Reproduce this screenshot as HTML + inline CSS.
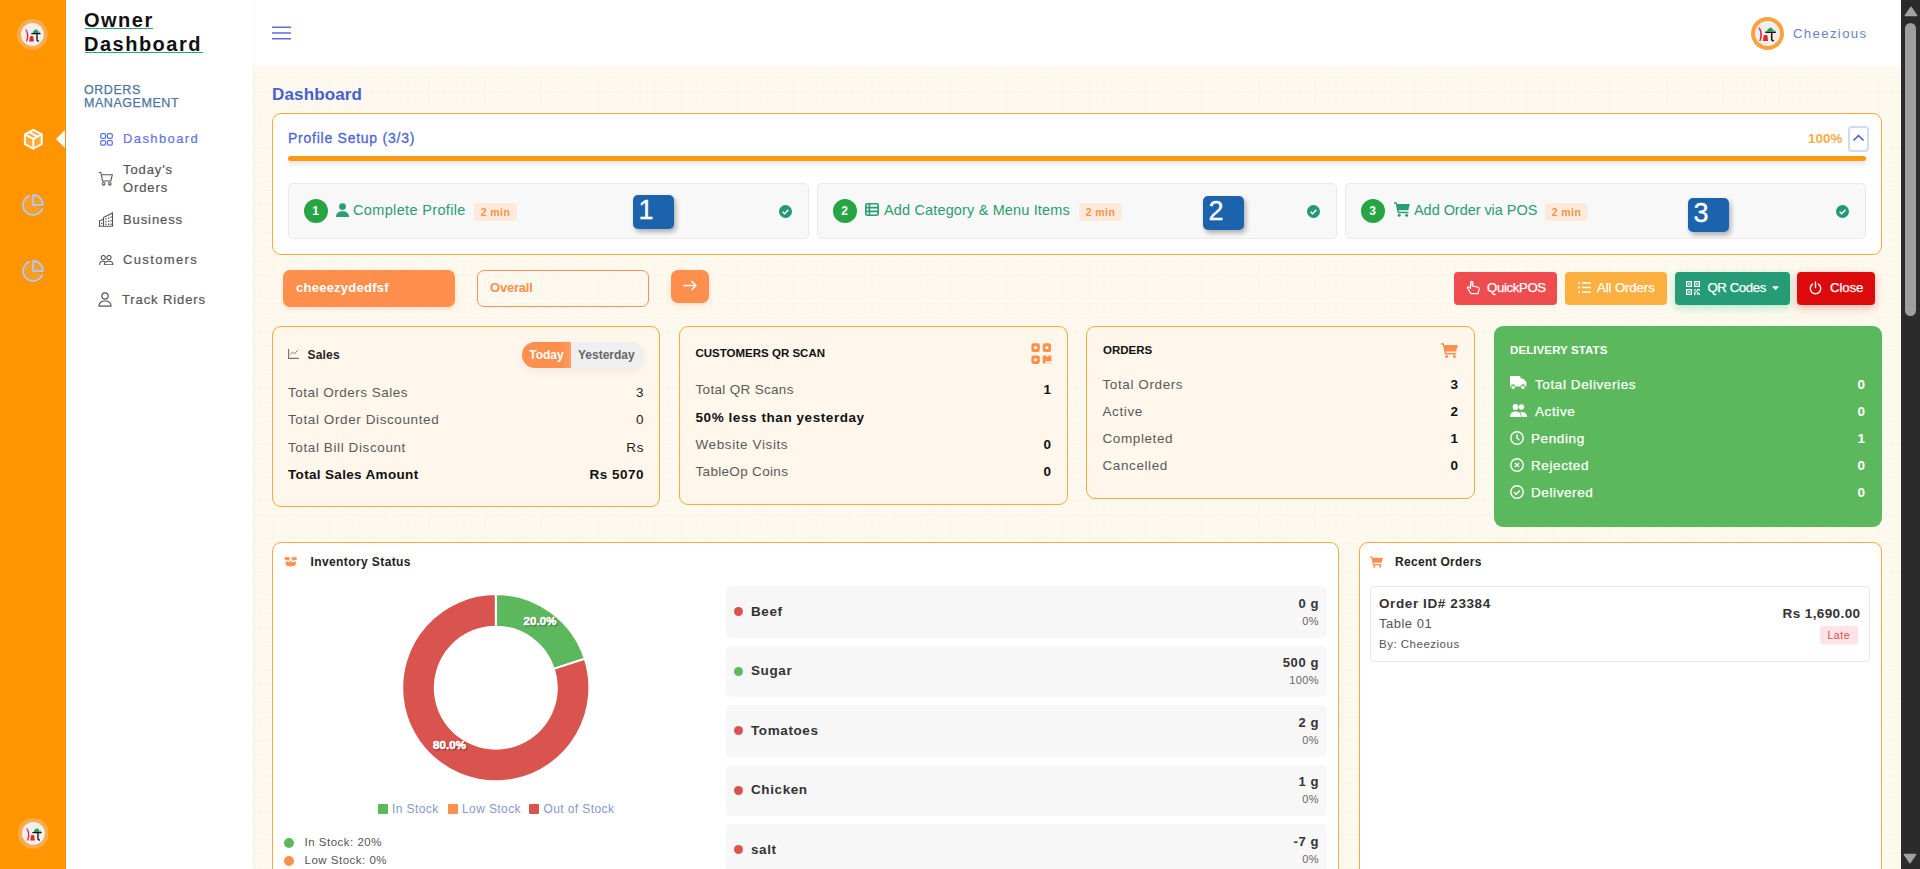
<!DOCTYPE html>
<html lang="en">
<head>
<meta charset="utf-8">
<title>Owner Dashboard</title>
<style>
*{box-sizing:border-box;margin:0;padding:0}
html,body{width:1920px;height:869px;overflow:hidden}
body{position:relative;font-family:"Liberation Sans",Arial,sans-serif;background:#fcf8ef;color:#333}
.a{position:absolute}
.t{position:absolute;white-space:nowrap;line-height:1}
/* rail */
#rail{left:0;top:0;width:66px;height:869px;background:#ff9500}
.logo{position:absolute;width:31px;height:31px;border-radius:50%;background:#f9ab4d}
.logo svg{position:absolute;left:0;top:0}
/* sidebar */
#side{left:66px;top:0;width:187px;height:869px;background:#fff}
#main{left:253px;top:66px;width:1648px;height:803px;background-color:#fdf9ee;
 background-image:linear-gradient(to right,rgba(200,190,170,.06) 1px,transparent 1px),linear-gradient(to bottom,rgba(200,190,170,.06) 1px,transparent 1px);
 background-size:14.07px 14.12px;background-position:6.8px 11.2px}
#head{left:253px;top:0;width:1648px;height:66px;background:#fff}
#sbar{left:1901px;top:0;width:19px;height:869px;background:#2b2b2b}
.nav{color:#555;font-size:13px;letter-spacing:.9px;-webkit-text-stroke:.2px currentColor}
.tsk{font-size:14.5px;color:#2b9c72;letter-spacing:.35px}
.bdg{height:18px;width:43px;border-radius:4px;background:#fdeadd;color:#f7934a;font-size:10.5px;font-weight:bold;line-height:18px;text-align:center;letter-spacing:.4px}
.btn{top:272px;height:33px;border-radius:4px}
.btt{top:281.3px;font-size:13.2px;color:#fff;-webkit-text-stroke:.25px #fff}
.card{background:#fff6ec;border:1px solid #fca83a;border-radius:9px}
.dl{font-size:11.5px;font-weight:bold;color:#fff;letter-spacing:.1px;-webkit-text-stroke:.6px #fff;text-shadow:1px 1px 1.5px rgba(0,0,0,.6)}
.lg{top:803px;font-size:12px;color:#8697c9;letter-spacing:.4px}
</style>
</head>
<body>
<div id="main" class="a"></div>
<div id="head" class="a"></div>
<div id="side" class="a" style="box-shadow:1px 0 3px rgba(0,0,0,.04)"></div>
<div id="rail" class="a"></div>

<!-- rail logos -->
<svg class="a" style="left:17.40px;top:19.40px" width="30.80" height="30.80" viewBox="-15.40 -15.40 30.80 30.80"><circle r="15.40" fill="#f9ab4d"/><circle r="11.4" fill="#efefef"/><g transform="translate(.9 .3) scale(.88)"><path d="M-8.4 -6.2C-5.6 -4.2 -4.4 3 -7 7.6L-8.4 7.6C-6.6 3 -6.8 -2.5 -9.2 -5.6Z" fill="#e5262d"/>
<path d="M-4.8 7.6L-3.8 2.6Q-3.6 1.6 -2.8 1.6L-1 1.6Q-.2 1.6 0 2.6L.6 7.6Z" fill="#e5262d"/>
<path d="M-2.2 -1.2H8.3M4.2 -1.2V5.6C4.2 6.9 5 7.3 6.4 7.1" stroke="#111" stroke-width="1.5" fill="none"/>
<path d="M-.6 -1.9C-.4 -3.8 .8 -5 2.2 -5.3L1.2 -6.3L2.9 -5.6L3.6 -6.5L4.1 -5.3C5.4 -4.9 6 -3.6 6 -1.9Z M6.6 -1.9L7 -4.2L7.6 -1.9Z" fill="#1fa04a"/></g></svg>

<svg class="a" style="left:17.60px;top:817.80px" width="30.80" height="30.80" viewBox="-15.40 -15.40 30.80 30.80"><circle r="15.40" fill="#f9ab4d"/><circle r="11.4" fill="#efefef"/><g transform="translate(.9 .3) scale(.88)"><path d="M-8.4 -6.2C-5.6 -4.2 -4.4 3 -7 7.6L-8.4 7.6C-6.6 3 -6.8 -2.5 -9.2 -5.6Z" fill="#e5262d"/>
<path d="M-4.8 7.6L-3.8 2.6Q-3.6 1.6 -2.8 1.6L-1 1.6Q-.2 1.6 0 2.6L.6 7.6Z" fill="#e5262d"/>
<path d="M-2.2 -1.2H8.3M4.2 -1.2V5.6C4.2 6.9 5 7.3 6.4 7.1" stroke="#111" stroke-width="1.5" fill="none"/>
<path d="M-.6 -1.9C-.4 -3.8 .8 -5 2.2 -5.3L1.2 -6.3L2.9 -5.6L3.6 -6.5L4.1 -5.3C5.4 -4.9 6 -3.6 6 -1.9Z M6.6 -1.9L7 -4.2L7.6 -1.9Z" fill="#1fa04a"/></g></svg>

<!-- rail icons -->
<svg class="a" style="left:22px;top:128.2px" width="22.6" height="22.6" viewBox="0 0 22 22" fill="none" stroke="#fff" stroke-width="1.9" stroke-linejoin="round">
<path d="M11 1.8l8.2 4.4v9.6L11 20.2 2.8 15.8V6.2z" fill="#fff" fill-opacity=".22"/>
<path d="M2.8 6.2L11 10.6l8.2-4.4M11 10.6v9.6M6.9 4l8.2 4.4"/>
</svg>
<div class="a" style="left:65px;top:0;width:1px;height:869px;background:#f38f00"></div>
<svg class="a" style="left:56px;top:130px" width="9" height="18" viewBox="0 0 9 18"><path d="M9 0v18L0 9z" fill="#fff"/></svg>
<svg class="a" style="left:21.3px;top:193.3px" width="24" height="24" viewBox="0 0 24 24" fill="none" stroke="#b8c6ec" stroke-width="1.8" stroke-linecap="round" stroke-linejoin="round"><path d="M12 12V2A10 10 0 1 0 21.2 15.9z" fill="#d8c8c0" fill-opacity=".22" stroke="none"/><path d="M21.21 15.89A10 10 0 1 1 8 2.83"/><path d="M22 12A10 10 0 0 0 12 2v10z" fill="#d8c8c0" fill-opacity=".22"/></svg>
<svg class="a" style="left:21.3px;top:259.3px" width="24" height="24" viewBox="0 0 24 24" fill="none" stroke="#b8c6ec" stroke-width="1.8" stroke-linecap="round" stroke-linejoin="round"><path d="M12 12V2A10 10 0 1 0 21.2 15.9z" fill="#d8c8c0" fill-opacity=".22" stroke="none"/><path d="M21.21 15.89A10 10 0 1 1 8 2.83"/><path d="M22 12A10 10 0 0 0 12 2v10z" fill="#d8c8c0" fill-opacity=".22"/></svg>

<!-- SIDEBAR -->
<div class="t" style="left:84px;top:8px;font-size:20px;line-height:24px;font-weight:bold;color:#111;letter-spacing:1.5px">Owner<br>Dashboard</div>
<div class="a" style="left:84.5px;top:28px;width:68.5px;height:1px;background:#2aa67c"></div>
<div class="a" style="left:84.5px;top:52px;width:118px;height:1px;background:#2aa67c"></div>
<div class="t" style="left:84px;top:84px;font-size:12.5px;line-height:13px;color:#4d74a0;letter-spacing:.55px;-webkit-text-stroke:.25px #4d74a0">ORDERS<br>MANAGEMENT</div>

<!-- nav icons -->
<svg class="a" style="left:100px;top:132.6px" width="13" height="13" viewBox="0 0 13 13" fill="none" stroke="#5d6ff0" stroke-width="1.25"><rect x=".7" y=".7" width="4.9" height="4.6" rx="1.4"/><rect x="7.4" y=".7" width="4.9" height="4.6" rx="1.4"/><rect x=".7" y="7.6" width="4.9" height="4.6" rx="1.4"/><rect x="7.4" y="7.6" width="4.9" height="4.6" rx="1.4"/></svg>
<div class="t nav" style="left:123px;top:132px;color:#6474e5;letter-spacing:1.4px">Dashboard</div>

<svg class="a" style="left:98px;top:171px" width="16" height="16" viewBox="0 0 16 16" fill="none" stroke="#555" stroke-width="1.1"><path d="M.8 1.5h2l1.8 8.5h8.2l1.5-6.2H4"/><circle cx="5.6" cy="12.8" r="1.3"/><circle cx="11.8" cy="12.8" r="1.3"/></svg>
<div class="t nav" style="left:123px;top:161.3px;line-height:18px">Today's<br>Orders</div>

<svg class="a" style="left:98px;top:212px" width="16" height="15" viewBox="0 0 16 15" fill="none" stroke="#555" stroke-width="1.1"><path d="M.8 14.2h14.4M1.5 14.2V8.8l4-1.6M5.5 14.2V5.6l9-4.6v13.2"/><g fill="#555" stroke="none"><rect x="7.3" y="6.4" width="1.3" height="1.3"/><rect x="10" y="5.4" width="1.3" height="1.3"/><rect x="12.4" y="4.4" width="1.3" height="1.3"/><rect x="7.3" y="9" width="1.3" height="1.3"/><rect x="10" y="8.6" width="1.3" height="1.3"/><rect x="12.4" y="8.2" width="1.3" height="1.3"/><rect x="7.3" y="11.6" width="1.3" height="1.3"/><rect x="10" y="11.6" width="1.3" height="1.3"/><rect x="12.4" y="11.6" width="1.3" height="1.3"/><rect x="3" y="10.8" width="1.3" height="1.3"/></g></svg>
<div class="t nav" style="left:123px;top:213px">Business</div>

<svg class="a" style="left:99.2px;top:254.8px" width="14.4" height="10.4" viewBox="0 0 14.4 10.4" fill="none" stroke="#555" stroke-width="1.05"><circle cx="4.3" cy="2.6" r="2.1"/><circle cx="10" cy="2.6" r="2.1"/><path d="M.6 9.9c0-2.3 1.5-3.6 3.5-3.6 .7 0 1.3.2 1.8.5M5.3 9.9c0-2.3 2.1-3.6 4.7-3.6s4 1.3 4 3.6z"/></svg>
<div class="t nav" style="left:123px;top:253.3px;letter-spacing:1.35px">Customers</div>

<svg class="a" style="left:98px;top:292px" width="14" height="15" viewBox="0 0 14 15" fill="none" stroke="#555" stroke-width="1.2"><circle cx="7" cy="4" r="3.2"/><path d="M1 14.2c0-3.6 2.6-5.2 6-5.2s6 1.6 6 5.2z"/></svg>
<div class="t nav" style="left:122px;top:293.3px">Track Riders</div>

<!-- HEADER -->
<svg class="a" style="left:272px;top:26px" width="19" height="14" viewBox="0 0 19 14" stroke="#5b6ed0" stroke-width="1.6"><path d="M0 1.2h19M0 7h19M0 12.8h19"/></svg>

<svg class="a" style="left:1751.35px;top:16.70px" width="33.00" height="33.00" viewBox="-16.50 -16.50 33.00 33.00"><circle r="16.50" fill="#f8a43c"/><circle r="12.5" fill="#efefef"/><path d="M-8.4 -6.2C-5.6 -4.2 -4.4 3 -7 7.6L-8.4 7.6C-6.6 3 -6.8 -2.5 -9.2 -5.6Z" fill="#e5262d"/>
<path d="M-4.8 7.6L-3.8 2.6Q-3.6 1.6 -2.8 1.6L-1 1.6Q-.2 1.6 0 2.6L.6 7.6Z" fill="#e5262d"/>
<path d="M-2.2 -1.2H8.3M4.2 -1.2V5.6C4.2 6.9 5 7.3 6.4 7.1" stroke="#111" stroke-width="1.5" fill="none"/>
<path d="M-.6 -1.9C-.4 -3.8 .8 -5 2.2 -5.3L1.2 -6.3L2.9 -5.6L3.6 -6.5L4.1 -5.3C5.4 -4.9 6 -3.6 6 -1.9Z M6.6 -1.9L7 -4.2L7.6 -1.9Z" fill="#1fa04a"/></svg>
<div class="t" style="left:1793px;top:26.7px;font-size:13.2px;color:#6a82c4;letter-spacing:1.35px">Cheezious</div>

<!-- scrollbar -->
<div id="sbar" class="a"></div>
<div class="a" style="left:1905px;top:23px;width:11px;height:293px;border-radius:6px;background:#9f9f9f"></div>
<svg class="a" style="left:1903.5px;top:5.5px" width="14" height="11" viewBox="0 0 14 11"><path d="M7 1.2L12.8 9.6H1.2z" fill="#a3a3a3" stroke="#a3a3a3" stroke-width="1.2" stroke-linejoin="round"/></svg>
<svg class="a" style="left:1903px;top:852.8px" width="14" height="11" viewBox="0 0 14 11"><path d="M7 9.8L12.8 1.4H1.2z" fill="#a3a3a3" stroke="#a3a3a3" stroke-width="1.2" stroke-linejoin="round"/></svg>


<div class="t" style="left:272px;top:86px;font-size:17px;font-weight:bold;color:#4660d0;letter-spacing:.15px">Dashboard</div>

<!-- profile setup card -->
<div class="a" style="left:272px;top:113px;width:1610px;height:142px;background:#fff;border:1px solid #fca83a;border-radius:9px"></div>
<div class="t" style="left:288px;top:131px;font-size:14px;color:#4e66d2;letter-spacing:.75px;-webkit-text-stroke:.3px #4e66d2">Profile Setup (3/3)</div>
<div class="t" style="left:1808px;top:131.8px;font-size:13.5px;font-weight:bold;color:#fbad45">100%</div>
<div class="a" style="left:1848px;top:126px;width:21px;height:26px;border:2.6px solid #d3daf6;border-radius:4px;background:#fff"></div>
<svg class="a" style="left:1852px;top:133px" width="13" height="9" viewBox="0 0 13 9" fill="none" stroke="#3d57d8" stroke-width="1.5"><path d="M1.5 7.5l5-5 5 5"/></svg>
<div class="a" style="left:288px;top:156px;width:1578px;height:4.5px;border-radius:3px;background:#ff9a0e;box-shadow:0 3px 5px rgba(120,130,160,.25)"></div>
<div class="a" style="left:288px;top:183px;width:521px;height:56px;background:#f8f8f8;border:1px solid #e9e9e9;border-radius:5px"></div>
<div class="a" style="left:303.5px;top:199px;width:24px;height:24px;border-radius:50%;background:#27a444;color:#fff;font-size:12px;font-weight:bold;text-align:center;line-height:24px">1</div>
<svg class="a" style="left:336px;top:203px" width="13" height="14" viewBox="0 0 13 14" fill="#2a9d74"><circle cx="6.5" cy="3.6" r="3.4"/><path d="M0 14c0-4 2.6-5.8 6.5-5.8S13 10 13 14z"/></svg>
<div class="t tsk" style="left:353px;top:203.3px">Complete Profile</div>
<div class="a bdg" style="left:474px;top:203px">2 min</div>
<div class="a" style="left:633px;top:195px;width:41px;height:34px;border-radius:5px;background:#1b63ad;box-shadow:2px 3px 5px rgba(0,0,0,.3);color:#fff;font-size:27px;line-height:30px;padding-left:5.5px;-webkit-text-stroke:.35px #fff">1</div>
<svg class="a" style="left:778.5px;top:204.5px" width="13" height="13" viewBox="0 0 13 13"><circle cx="6.5" cy="6.5" r="6.5" fill="#22977a"/><path d="M3.6 6.7l2 2 3.8-3.8" stroke="#fff" stroke-width="1.5" fill="none"/></svg>
<div class="a" style="left:817px;top:183px;width:520px;height:56px;background:#f8f8f8;border:1px solid #e9e9e9;border-radius:5px"></div>
<div class="a" style="left:832.5px;top:199px;width:24px;height:24px;border-radius:50%;background:#27a444;color:#fff;font-size:12px;font-weight:bold;text-align:center;line-height:24px">2</div>
<svg class="a" style="left:865px;top:203px" width="14" height="13" viewBox="0 0 14 13" fill="none" stroke="#2a9d74" stroke-width="1.6"><rect x="0.8" y="0.8" width="12.4" height="11.4" rx="1.5"/><path d="M0.8 4.6h12.4M0.8 8.4h12.4M4.4 0.8v11.4"/></svg>
<div class="t tsk" style="left:884px;top:203.3px;letter-spacing:.15px">Add Category &amp; Menu Items</div>
<div class="a bdg" style="left:1079px;top:203px">2 min</div>
<div class="a" style="left:1203px;top:196px;width:41px;height:34px;border-radius:5px;background:#1b63ad;box-shadow:2px 3px 5px rgba(0,0,0,.3);color:#fff;font-size:27px;line-height:30px;padding-left:5.5px;-webkit-text-stroke:.35px #fff">2</div>
<svg class="a" style="left:1306.5px;top:204.5px" width="13" height="13" viewBox="0 0 13 13"><circle cx="6.5" cy="6.5" r="6.5" fill="#22977a"/><path d="M3.6 6.7l2 2 3.8-3.8" stroke="#fff" stroke-width="1.5" fill="none"/></svg>
<div class="a" style="left:1345px;top:183px;width:521px;height:56px;background:#f8f8f8;border:1px solid #e9e9e9;border-radius:5px"></div>
<div class="a" style="left:1360.5px;top:199px;width:24px;height:24px;border-radius:50%;background:#27a444;color:#fff;font-size:12px;font-weight:bold;text-align:center;line-height:24px">3</div>
<svg class="a" style="left:1394px;top:202px" width="16" height="15" viewBox="0 0 16 15" fill="#2a9d74"><path d="M0 .3h2.6l.5 1.6H15.8L14.3 8.2H4.6l.4 1.6h9.4v1.5H3.8L1.7 1.8H0z"/><circle cx="5.2" cy="13.3" r="1.5"/><circle cx="12.6" cy="13.3" r="1.5"/></svg>
<div class="t tsk" style="left:1414px;top:203.3px;letter-spacing:-.05px">Add Order via POS</div>
<div class="a bdg" style="left:1545px;top:203px">2 min</div>
<div class="a" style="left:1688px;top:198px;width:41px;height:34px;border-radius:5px;background:#1b63ad;box-shadow:2px 3px 5px rgba(0,0,0,.3);color:#fff;font-size:27px;line-height:30px;padding-left:5.5px;-webkit-text-stroke:.35px #fff">3</div>
<svg class="a" style="left:1835.5px;top:204.5px" width="13" height="13" viewBox="0 0 13 13"><circle cx="6.5" cy="6.5" r="6.5" fill="#22977a"/><path d="M3.6 6.7l2 2 3.8-3.8" stroke="#fff" stroke-width="1.5" fill="none"/></svg>


<!-- filter row -->
<div class="a" style="left:283px;top:270px;width:172px;height:37px;border-radius:7px;background:#ff8f4c;box-shadow:0 2px 5px rgba(255,143,76,.25)"></div>
<div class="t" style="left:296px;top:281px;font-size:13px;font-weight:bold;color:#fff;letter-spacing:.25px">cheeezydedfsf</div>
<div class="a" style="left:477px;top:270px;width:172px;height:37px;border-radius:7px;border:1px solid #ff8f4c"></div>
<div class="t" style="left:490px;top:281px;font-size:13px;font-weight:bold;color:#ff8f4c;letter-spacing:-.2px">Overall</div>
<div class="a" style="left:671px;top:270px;width:38px;height:33px;border-radius:7px;background:#ff8f4c;box-shadow:0 2px 5px rgba(255,143,76,.25)"></div>
<svg class="a" style="left:683px;top:280px" width="14" height="11" viewBox="0 0 14 11" fill="none" stroke="#fff" stroke-width="1.4"><path d="M0.5 5.5h12.5M8.5 1l4.5 4.5L8.5 10"/></svg>

<!-- action buttons -->
<div class="a btn" style="left:1454px;width:103px;background:#ef4c4f"></div>
<svg class="a" style="left:1466px;top:280px" width="15" height="15" viewBox="0 0 15 15" fill="none" stroke="#fff" stroke-width="1.15" stroke-linejoin="round"><path d="M4.5 2.6a1.2 1.2 0 0 1 2.4 0V6.3H4.5z" fill="#fff" fill-opacity=".55" stroke="none"/><path d="M4.5 8.4V2.6a1.2 1.2 0 0 1 2.4 0V6.1l5.2 1.1q1.3.3 1.1 1.6L12 13.6H4.9L1.6 8.3q-.5-1 .4-1.4.8-.3 1.4.4z"/></svg>
<div class="t btt" style="left:1487px;letter-spacing:-.35px">QuickPOS</div>

<div class="a btn" style="left:1565px;width:102px;background:#fbb03f"></div>
<svg class="a" style="left:1578px;top:282px" width="13" height="11" viewBox="0 0 13 11" fill="none" stroke="#fff" stroke-width="1.5"><path d="M0 1h2M0 5.5h2M0 10h2M4 1h9M4 5.5h9M4 10h9"/></svg>
<div class="t btt" style="left:1597px;letter-spacing:-.1px">All Orders</div>

<div class="a btn" style="left:1675px;width:115px;background:#259b76;box-shadow:0 3px 8px rgba(40,200,150,.35)"></div>
<svg class="a" style="left:1686px;top:281px" width="14" height="14" viewBox="0 0 14 14" fill="#fff"><path d="M0 0h6v6H0zM1.3 1.3v3.4h3.4V1.3zM8 0h6v6H8zM9.3 1.3v3.4h3.4V1.3zM0 8h6v6H0zM1.3 9.3v3.4h3.4V9.3zM2.2 2.2h1.6v1.6H2.2zM10.2 2.2h1.6v1.6h-1.6zM2.2 10.2h1.6v1.6H2.2zM8 8h1.5v1.5H8zM11 8h3v1.5h-3zM9.5 9.5H11V11H9.5zM8 11h1.5v3H8zM11 11h1.5v1.5H11zM12.5 12.5H14V14h-1.5zM11 12.5h.8V14H11z"/></svg>
<div class="t btt" style="left:1707.5px;letter-spacing:-.4px">QR Codes</div>
<svg class="a" style="left:1772px;top:286px" width="7" height="5" viewBox="0 0 8 5"><path d="M0 0h8L4 4.5z" fill="#fff"/></svg>

<div class="a btn" style="left:1797px;width:78px;background:#dc0a0a;box-shadow:0 3px 8px rgba(220,20,20,.3)"></div>
<svg class="a" style="left:1809px;top:281px" width="13" height="14" viewBox="0 0 13 14" fill="none" stroke="#fff" stroke-width="1.4" stroke-linecap="round"><path d="M6.5 1v5.5M3.6 3.2a5.2 5.2 0 1 0 5.8 0"/></svg>
<div class="t btt" style="left:1830px;letter-spacing:-.1px">Close</div>

<div class="a card" style="left:272px;top:326px;width:388px;height:181px"></div>
<svg class="a" style="left:288px;top:349px" width="11" height="10" viewBox="0 0 11 10" fill="none" stroke="#777"><path d="M.6 0v9.3H11" stroke-width="1.2"/><path d="M2.4 5.6l2.2-2.4 1.8 1.6 3.4-3.6" stroke-width=".9"/></svg>
<div class="t" style="left:307.5px;top:349px;font-size:12px;font-weight:bold;color:#222;letter-spacing:.2px">Sales</div>
<div class="a" style="left:522px;top:342px;width:122px;height:26px;border-radius:13px;background:#efefef;box-shadow:0 4px 8px rgba(0,0,0,.05)"></div>
<div class="a" style="left:522px;top:342px;width:49px;height:26px;border-radius:13px 0 0 13px;background:linear-gradient(to right,#ff8f4c 80%,#ff9d65);color:#fff;font-size:12px;font-weight:bold;line-height:26px;text-align:center">Today</div>
<div class="t" style="left:578px;top:349px;font-size:12px;font-weight:bold;color:#666">Yesterday</div>
<div class="t" style="left:288px;top:385.6px;font-size:13.5px;color:#5a5a5a;letter-spacing:0.5px;">Total Orders Sales</div>
<div class="t" style="right:1276px;top:385.6px;font-size:13.5px;color:#222;letter-spacing:0.6px;">3</div>
<div class="t" style="left:288px;top:412.6px;font-size:13.5px;color:#5a5a5a;letter-spacing:0.6px;">Total Order Discounted</div>
<div class="t" style="right:1276px;top:412.6px;font-size:13.5px;color:#222;letter-spacing:0.6px;">0</div>
<div class="t" style="left:288px;top:440.6px;font-size:13.5px;color:#5a5a5a;letter-spacing:0.6px;">Total Bill Discount</div>
<div class="t" style="right:1276px;top:440.6px;font-size:13.5px;color:#222;letter-spacing:0.6px;">Rs</div>
<div class="t" style="left:288px;top:467.6px;font-size:13.5px;color:#111;letter-spacing:0.33px;font-weight:bold;">Total Sales Amount</div>
<div class="t" style="right:1276px;top:467.6px;font-size:13.5px;color:#111;letter-spacing:0.5px;font-weight:bold;">Rs 5070</div>
<div class="a card" style="left:679px;top:326px;width:389px;height:178.7px"></div>
<div class="t" style="left:695.5px;top:348.2px;font-size:11.5px;font-weight:bold;color:#111;letter-spacing:0px">CUSTOMERS QR SCAN</div>
<svg class="a" style="left:1030.5px;top:342.5px" width="21" height="21" viewBox="0 0 21 21" fill="#ff8f4c"><path fill-rule="evenodd" d="M2.4 0.3h4.4a2 2 0 0 1 2 2v4.6a2 2 0 0 1-2 2H2.4a2 2 0 0 1-2-2V2.3a2 2 0 0 1 2-2zM3.1999999999999997 3.3v2.6h2.8V3.3zM13.7 0.3h4.4a2 2 0 0 1 2 2v4.6a2 2 0 0 1-2 2H13.7a2 2 0 0 1-2-2V2.3a2 2 0 0 1 2-2zM14.5 3.3v2.6h2.8V3.3zM2.4 12.4h4.4a2 2 0 0 1 2 2v4.6a2 2 0 0 1-2 2H2.4a2 2 0 0 1-2-2V14.4a2 2 0 0 1 2-2zM3.1999999999999997 15.4v2.6h2.8V15.4zM11.7 12.4H15L16.4 14.1 17.8 12.4H20.4V18.3H14.5V20.6H11.7Z"/><circle cx="16.9" cy="20" r=".65"/><circle cx="19.8" cy="20" r=".65"/></svg>
<div class="t" style="left:695.5px;top:382.6px;font-size:13.5px;color:#5a5a5a;letter-spacing:0.32px;">Total QR Scans</div>
<div class="t" style="right:869px;top:382.6px;font-size:13.5px;color:#111;letter-spacing:0px;font-weight:bold;">1</div>
<div class="t" style="left:695.5px;top:411.1px;font-size:13.5px;color:#111;letter-spacing:0.57px;font-weight:bold;">50% less than yesterday</div>
<div class="t" style="left:695.5px;top:438.1px;font-size:13.5px;color:#5a5a5a;letter-spacing:0.6px;">Website Visits</div>
<div class="t" style="right:869px;top:438.1px;font-size:13.5px;color:#111;letter-spacing:0px;font-weight:bold;">0</div>
<div class="t" style="left:695.5px;top:465.1px;font-size:13.5px;color:#5a5a5a;letter-spacing:0.32px;">TableOp Coins</div>
<div class="t" style="right:869px;top:465.1px;font-size:13.5px;color:#111;letter-spacing:0px;font-weight:bold;">0</div>
<div class="a card" style="left:1086px;top:326px;width:389px;height:173px"></div>
<div class="t" style="left:1103px;top:344.5px;font-size:11.5px;font-weight:bold;color:#111;letter-spacing:0px">ORDERS</div>
<svg class="a" style="left:1441px;top:343px" width="17" height="15" viewBox="0 0 17 15" fill="#ff8f4c"><path d="M0 .3h2.8l.5 1.7H16.8L15.2 8.4H4.8l.4 1.7h10v1.5H4L1.8 1.8H0z"/><circle cx="5.6" cy="13.4" r="1.5"/><circle cx="13.4" cy="13.4" r="1.5"/></svg>
<div class="t" style="left:1102.5px;top:377.6px;font-size:13.5px;color:#5a5a5a;letter-spacing:0.6px;">Total Orders</div>
<div class="t" style="right:462px;top:377.6px;font-size:13.5px;color:#111;letter-spacing:0px;font-weight:bold;">3</div>
<div class="t" style="left:1102.5px;top:404.6px;font-size:13.5px;color:#5a5a5a;letter-spacing:0.6px;">Active</div>
<div class="t" style="right:462px;top:404.6px;font-size:13.5px;color:#111;letter-spacing:0px;font-weight:bold;">2</div>
<div class="t" style="left:1102.5px;top:431.6px;font-size:13.5px;color:#5a5a5a;letter-spacing:0.6px;">Completed</div>
<div class="t" style="right:462px;top:431.6px;font-size:13.5px;color:#111;letter-spacing:0px;font-weight:bold;">1</div>
<div class="t" style="left:1102.5px;top:458.6px;font-size:13.5px;color:#5a5a5a;letter-spacing:0.6px;">Cancelled</div>
<div class="t" style="right:462px;top:458.6px;font-size:13.5px;color:#111;letter-spacing:0px;font-weight:bold;">0</div>
<div class="a" style="left:1494px;top:326px;width:388px;height:201px;border-radius:9px;background:#5cb85c"></div>
<div class="t" style="left:1510px;top:344.5px;font-size:11.5px;font-weight:bold;color:#fff;letter-spacing:.1px">DELIVERY STATS</div>
<div class="t" style="left:1535px;top:377.9px;font-size:13.5px;color:#fff;letter-spacing:0.6px;-webkit-text-stroke:.25px #fff;">Total Deliveries</div>
<div class="t" style="right:54.5px;top:377.9px;font-size:13.5px;color:#fff;letter-spacing:0.6px;font-weight:bold;">0</div>
<div class="t" style="left:1535px;top:405.1px;font-size:13.5px;color:#fff;letter-spacing:0.6px;-webkit-text-stroke:.25px #fff;">Active</div>
<div class="t" style="right:54.5px;top:405.1px;font-size:13.5px;color:#fff;letter-spacing:0.6px;font-weight:bold;">0</div>
<div class="t" style="left:1531px;top:431.9px;font-size:13.5px;color:#fff;letter-spacing:0.6px;-webkit-text-stroke:.25px #fff;">Pending</div>
<div class="t" style="right:54.5px;top:431.9px;font-size:13.5px;color:#fff;letter-spacing:0.6px;font-weight:bold;">1</div>
<div class="t" style="left:1531px;top:458.8px;font-size:13.5px;color:#fff;letter-spacing:0.6px;-webkit-text-stroke:.25px #fff;">Rejected</div>
<div class="t" style="right:54.5px;top:458.8px;font-size:13.5px;color:#fff;letter-spacing:0.6px;font-weight:bold;">0</div>
<div class="t" style="left:1531px;top:485.8px;font-size:13.5px;color:#fff;letter-spacing:0.6px;-webkit-text-stroke:.25px #fff;">Delivered</div>
<div class="t" style="right:54.5px;top:485.8px;font-size:13.5px;color:#fff;letter-spacing:0.6px;font-weight:bold;">0</div>
<svg class="a" style="left:1510px;top:376px" width="17" height="14" viewBox="0 0 17 14" fill="#fff"><path d="M0 1a1 1 0 0 1 1-1h8.5a1 1 0 0 1 1 1v1.6h2.6l3.3 3.4v4.4h-1.2a2.2 2.2 0 0 0-4.4 0H5.3a2.2 2.2 0 0 0-4.4 0H0z"/><circle cx="3.1" cy="11.4" r="1.7"/><circle cx="12.9" cy="11.4" r="1.7"/></svg>
<svg class="a" style="left:1510px;top:404px" width="17" height="13" viewBox="0 0 17 13" fill="#fff"><circle cx="5.5" cy="3" r="2.9"/><circle cx="11.5" cy="3" r="2.7"/><path d="M0 13c0-3.6 2.3-5.4 5.5-5.4S11 9.4 11 13zM11.7 13c0-2-.5-3.6-1.6-4.8.5-.2 1-.3 1.5-.3 3 0 5.4 1.8 5.4 5.1z"/></svg>
<svg class="a" style="left:1509.5px;top:431px" width="14" height="14" viewBox="0 0 14 14" fill="none" stroke="#fff" stroke-width="1.4"><circle cx="7" cy="7" r="6.2"/><path d="M7 3.3V7l2.5 2.2"/></svg>
<svg class="a" style="left:1509.5px;top:458px" width="14" height="14" viewBox="0 0 14 14" fill="none" stroke="#fff" stroke-width="1.4"><circle cx="7" cy="7" r="6.2"/><path d="M4.9 4.9l4.2 4.2M9.1 4.9l-4.2 4.2"/></svg>
<svg class="a" style="left:1509.5px;top:485px" width="14" height="14" viewBox="0 0 14 14" fill="none" stroke="#fff" stroke-width="1.4"><circle cx="7" cy="7" r="6.2"/><path d="M4.2 7.2l2 2 3.6-3.8"/></svg>

<div class="a" style="left:272px;top:542px;width:1067px;height:340px;background:#fff;border:1px solid #fca83a;border-radius:9px"></div>
<svg class="a" style="left:284px;top:556px" width="14" height="12" viewBox="0 0 14 12" fill="#ff8f4c"><path d="M1.2 1L6.2 1.5 5 4.7 .3 3.4z M12.2 1L7.2 1.5 8.4 4.7 13.1 3.4z M1.7 5.2L5.4 6.2 6.7 4.2 8 6.2 11.7 5.2V9.3L6.7 10.6 1.7 9.3z"/></svg>
<div class="t" style="left:310.5px;top:556.3px;font-size:12px;font-weight:bold;color:#222;letter-spacing:.4px">Inventory Status</div>
<svg class="a" style="left:0;top:0" width="1920" height="869" viewBox="0 0 1920 869"><path d="M495.80 594.10A93.6 93.6 0 0 1 584.82 658.78L553.81 668.85A61.0 61.0 0 0 0 495.80 626.70Z" fill="#5cb85c" stroke="#fff" stroke-width="2" stroke-linejoin="round"/><path d="M584.82 658.78A93.6 93.6 0 1 1 495.80 594.10L495.80 626.70A61.0 61.0 0 1 0 553.81 668.85Z" fill="#d9534f" stroke="#fff" stroke-width="2" stroke-linejoin="round"/></svg>
<div class="t dl" style="left:523.5px;top:615.5px">20.0%</div>
<div class="t dl" style="left:433px;top:740px">80.0%</div>
<div class="a" style="left:378px;top:804px;width:10px;height:10px;background:#5cb85c;border-radius:1px"></div>
<div class="t lg" style="left:392px">In Stock</div>
<div class="a" style="left:448px;top:804px;width:10px;height:10px;background:#ff8f4c;border-radius:1px"></div>
<div class="t lg" style="left:462px">Low Stock</div>
<div class="a" style="left:529px;top:804px;width:10px;height:10px;background:#d9534f;border-radius:1px"></div>
<div class="t lg" style="left:543.5px">Out of Stock</div>
<div class="a" style="left:284px;top:838px;width:10px;height:10px;border-radius:50%;background:#5cb85c"></div>
<div class="t" style="left:304.5px;top:837px;font-size:11.5px;color:#555;letter-spacing:.5px">In Stock: 20%</div>
<div class="a" style="left:284px;top:856px;width:10px;height:10px;border-radius:50%;background:#ff8f4c"></div>
<div class="t" style="left:304.5px;top:855px;font-size:11.5px;color:#555;letter-spacing:.5px">Low Stock: 0%</div>
<div class="a" style="left:726px;top:586.2px;width:601px;height:51.5px;background:#f7f7f7;border-radius:5px"></div>
<div class="a" style="left:734px;top:607.2px;width:9px;height:9px;border-radius:50%;background:#d9534f"></div>
<div class="t" style="left:751px;top:605.0px;font-size:13.5px;font-weight:bold;color:#333;letter-spacing:.6px">Beef</div>
<div class="t" style="right:601px;top:596.8px;font-size:13px;font-weight:bold;color:#333;letter-spacing:.6px">0 g</div>
<div class="t" style="right:601px;top:616.1px;font-size:11px;color:#666;letter-spacing:.4px">0%</div>
<div class="a" style="left:726px;top:645.5px;width:601px;height:51.5px;background:#f7f7f7;border-radius:5px"></div>
<div class="a" style="left:734px;top:666.5px;width:9px;height:9px;border-radius:50%;background:#5cb85c"></div>
<div class="t" style="left:751px;top:664.3px;font-size:13.5px;font-weight:bold;color:#333;letter-spacing:.6px">Sugar</div>
<div class="t" style="right:601px;top:656.1px;font-size:13px;font-weight:bold;color:#333;letter-spacing:.6px">500 g</div>
<div class="t" style="right:601px;top:675.4px;font-size:11px;color:#666;letter-spacing:.4px">100%</div>
<div class="a" style="left:726px;top:705.3px;width:601px;height:51.5px;background:#f7f7f7;border-radius:5px"></div>
<div class="a" style="left:734px;top:726.3px;width:9px;height:9px;border-radius:50%;background:#d9534f"></div>
<div class="t" style="left:751px;top:724.1px;font-size:13.5px;font-weight:bold;color:#333;letter-spacing:.6px">Tomatoes</div>
<div class="t" style="right:601px;top:715.9px;font-size:13px;font-weight:bold;color:#333;letter-spacing:.6px">2 g</div>
<div class="t" style="right:601px;top:735.2px;font-size:11px;color:#666;letter-spacing:.4px">0%</div>
<div class="a" style="left:726px;top:764.5px;width:601px;height:51.5px;background:#f7f7f7;border-radius:5px"></div>
<div class="a" style="left:734px;top:785.5px;width:9px;height:9px;border-radius:50%;background:#d9534f"></div>
<div class="t" style="left:751px;top:783.3px;font-size:13.5px;font-weight:bold;color:#333;letter-spacing:.6px">Chicken</div>
<div class="t" style="right:601px;top:775.1px;font-size:13px;font-weight:bold;color:#333;letter-spacing:.6px">1 g</div>
<div class="t" style="right:601px;top:794.4px;font-size:11px;color:#666;letter-spacing:.4px">0%</div>
<div class="a" style="left:726px;top:824.2px;width:601px;height:51.5px;background:#f7f7f7;border-radius:5px"></div>
<div class="a" style="left:734px;top:845.2px;width:9px;height:9px;border-radius:50%;background:#d9534f"></div>
<div class="t" style="left:751px;top:843.0px;font-size:13.5px;font-weight:bold;color:#333;letter-spacing:.6px">salt</div>
<div class="t" style="right:601px;top:834.8px;font-size:13px;font-weight:bold;color:#333;letter-spacing:.6px">-7 g</div>
<div class="t" style="right:601px;top:854.1px;font-size:11px;color:#666;letter-spacing:.4px">0%</div>
<div class="a" style="left:1358.5px;top:542px;width:523.5px;height:340px;background:#fff;border:1px solid #fca83a;border-radius:9px"></div>
<svg class="a" style="left:1370px;top:556px" width="13" height="12" viewBox="0 0 17 15" fill="#ff8f4c"><path d="M0 .3h2.8l.5 1.7H16.8L15.2 8.4H4.8l.4 1.7h10v1.5H4L1.8 1.8H0z"/><circle cx="5.6" cy="13.4" r="1.5"/><circle cx="13.4" cy="13.4" r="1.5"/></svg>
<div class="t" style="left:1395px;top:556.3px;font-size:12px;font-weight:bold;color:#222;letter-spacing:.3px">Recent Orders</div>
<div class="a" style="left:1370px;top:586px;width:500px;height:75.5px;background:#fff;border:1px solid #e6e6e6;border-radius:4px"></div>
<div class="t" style="left:1379px;top:597px;font-size:13.5px;font-weight:bold;color:#333;letter-spacing:.6px">Order ID# 23384</div>
<div class="t" style="left:1379px;top:617px;font-size:13px;color:#555;letter-spacing:.5px">Table 01</div>
<div class="t" style="left:1379px;top:638.5px;font-size:11.5px;color:#555;letter-spacing:.5px">By: Cheezious</div>
<div class="t" style="right:59.5px;top:607px;font-size:13.5px;font-weight:bold;color:#333;letter-spacing:.4px">Rs 1,690.00</div>
<div class="a" style="left:1820px;top:626px;width:37.5px;height:18px;border-radius:3px;background:#fde3e5;color:#e04a55;font-size:10.5px;line-height:18px;text-align:center;letter-spacing:.5px;box-shadow:0 2px 3px rgba(0,0,0,.04)">Late</div>

<!--MAIN-->
</body>
</html>
